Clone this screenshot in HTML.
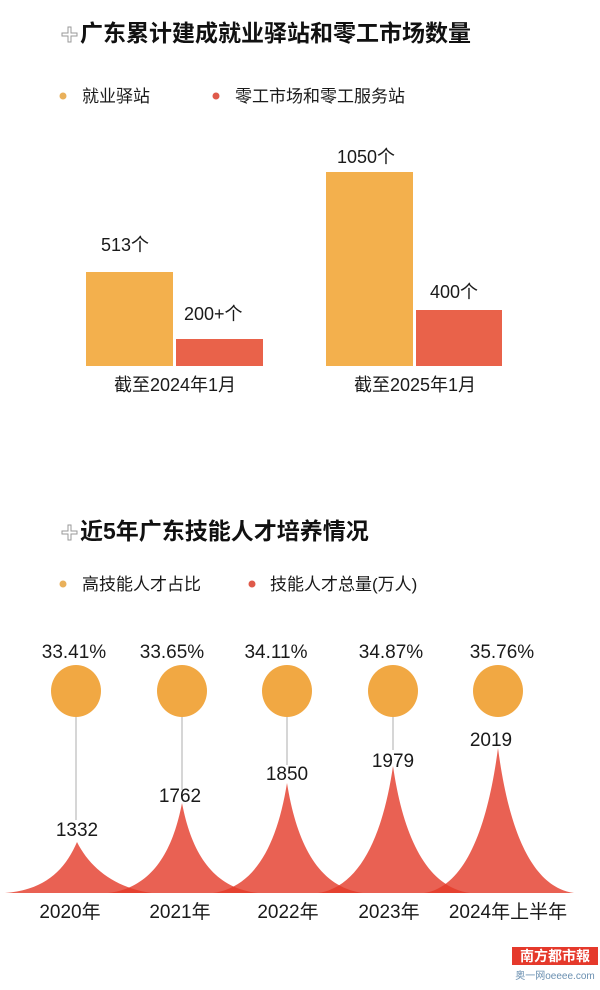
<!DOCTYPE html>
<html><head><meta charset="utf-8"><style>
html,body{margin:0;padding:0;background:#fff;}
body{width:600px;height:985px;overflow:hidden;}
svg text{font-family:"Liberation Sans","Noto Sans CJK SC",sans-serif;fill:#1a1a1a;}
</style></head><body>
<svg width="600" height="985" viewBox="0 0 600 985" xmlns="http://www.w3.org/2000/svg">
<path d="M62 33 h6 v-6 h3 v6 h6 v3 h-6 v6 h-3 v-6 h-6z" fill="none" stroke="#999" stroke-width="1"/>
<text x="80" y="41" font-size="23" font-weight="bold" style="fill:#111">广东累计建成就业驿站和零工市场数量</text>
<circle cx="63" cy="96" r="3.5" fill="#e9b05a"/>
<text x="82" y="102" font-size="17">就业驿站</text>
<circle cx="216" cy="96" r="3.5" fill="#df5a4a"/>
<text x="235" y="102" font-size="17">零工市场和零工服务站</text>
<rect x="86" y="272" width="87" height="94" fill="#f3b04d"/>
<rect x="176" y="339" width="87" height="27" fill="#e9624a"/>
<rect x="326" y="172" width="87" height="194" fill="#f3b04d"/>
<rect x="416" y="310" width="86" height="56" fill="#e9624a"/>
<text x="101" y="251" font-size="18">513个</text>
<text x="184" y="320" font-size="18">200+个</text>
<text x="337" y="163" font-size="18">1050个</text>
<text x="430" y="298" font-size="18">400个</text>
<text x="175" y="391" font-size="18" text-anchor="middle">截至2024年1月</text>
<text x="415" y="391" font-size="18" text-anchor="middle">截至2025年1月</text>
<path d="M62 531 h6 v-6 h3 v6 h6 v3 h-6 v6 h-3 v-6 h-6z" fill="none" stroke="#999" stroke-width="1"/>
<text x="80" y="539" font-size="23" font-weight="bold" style="fill:#111">近5年广东技能人才培养情况</text>
<circle cx="63" cy="584" r="3.5" fill="#e9b05a"/>
<text x="82" y="590" font-size="17">高技能人才占比</text>
<circle cx="252" cy="584" r="3.5" fill="#df5a4a"/>
<text x="270" y="590" font-size="17">技能人才总量(万人)</text>
<g font-size="19" text-anchor="middle">
<text x="74" y="658">33.41%</text>
<text x="172" y="658">33.65%</text>
<text x="276" y="658">34.11%</text>
<text x="391" y="658">34.87%</text>
<text x="502" y="658">35.76%</text>
</g>
<g fill="#f1a843">
<ellipse cx="76" cy="691" rx="25" ry="26"/>
<ellipse cx="182" cy="691" rx="25" ry="26"/>
<ellipse cx="287" cy="691" rx="25" ry="26"/>
<ellipse cx="393" cy="691" rx="25" ry="26"/>
<ellipse cx="498" cy="691" rx="25" ry="26"/>
</g>
<g stroke="#999" stroke-width="0.8">
<line x1="76" y1="717" x2="76" y2="820"/>
<line x1="182" y1="717" x2="182" y2="790"/>
<line x1="287" y1="717" x2="287" y2="765"/>
<line x1="393" y1="717" x2="393" y2="750"/>
</g>
<g fill="#e43a28" fill-opacity="0.8">
<path d="M5 893 C45 890 65 870 77 842 C90 868 115 888 152 893 Z"/>
<path d="M108 893 C150 888 172 855 182 803 C192 855 214 888 258 893 Z"/>
<path d="M213 893 C255 887 277 845 287 783 C297 845 319 887 363 893 Z"/>
<path d="M318 893 C360 887 383 835 393 766 C403 835 426 887 470 893 Z"/>
<path d="M424 893 C466 887 488 825 498 748 C508 825 530 887 574 893 Z"/>
</g>
<g font-size="19" text-anchor="middle">
<text x="77" y="836">1332</text>
<text x="180" y="802">1762</text>
<text x="287" y="780">1850</text>
<text x="393" y="767">1979</text>
<text x="491" y="746">2019</text>
<text x="70" y="918">2020年</text>
<text x="180" y="918">2021年</text>
<text x="288" y="918">2022年</text>
<text x="389" y="918">2023年</text>
<text x="508" y="918">2024年上半年</text>
</g>
<rect x="512" y="947" width="86" height="18" fill="#e5392b"/>
<text x="555" y="961" font-size="14" font-weight="bold" text-anchor="middle" style="fill:#fff">南方都市報</text>
<text x="555" y="979" font-size="10" text-anchor="middle" style="fill:#6a8fb0">奥一网oeeee.com</text>
</svg>
</body></html>
